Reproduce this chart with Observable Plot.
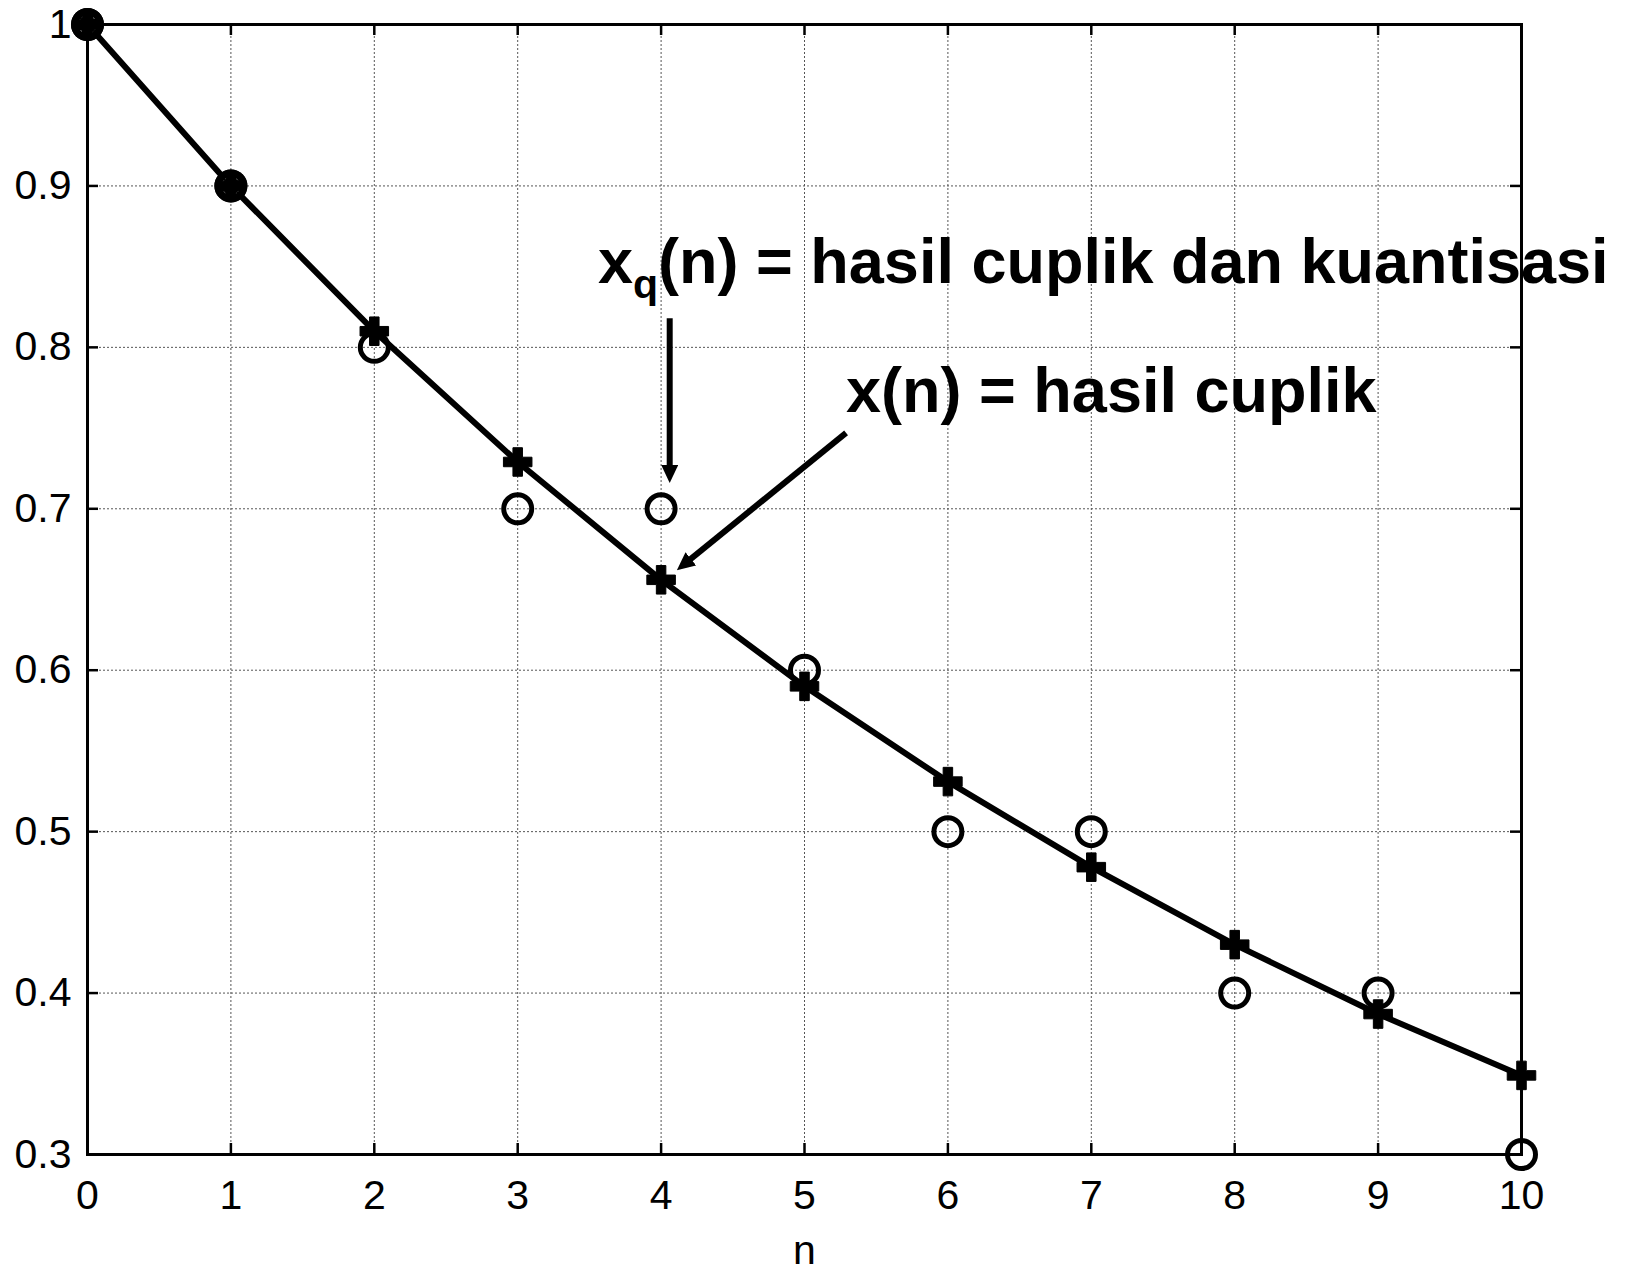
<!DOCTYPE html>
<html>
<head>
<meta charset="utf-8">
<script src="https://cdn.jsdelivr.net/npm/d3@7"></script>
<script src="https://cdn.jsdelivr.net/npm/@observablehq/plot@0.6"></script>
<style>
  html, body { margin: 0; padding: 0; background: #fff; }
  #chart svg { display: block; }
</style>
</head>
<body>
<div id="chart"></div>
<script>
// Sample index
const n = [0, 1, 2, 3, 4, 5, 6, 7, 8, 9, 10];
// x(n): sampled signal
const xSampled = [1.000, 0.900, 0.810, 0.729, 0.656, 0.590, 0.531, 0.478, 0.430, 0.387, 0.349];
// xq(n): sampled and quantized (step 0.1)
const xQuantized = [1.0, 0.9, 0.8, 0.7, 0.7, 0.6, 0.5, 0.5, 0.4, 0.4, 0.3];

// Axis ticks and their labels
const xTicks = [0, 1, 2, 3, 4, 5, 6, 7, 8, 9, 10];
const xTickLabels = ["0", "1", "2", "3", "4", "5", "6", "7", "8", "9", "10"];
const yTicks = [0.3, 0.4, 0.5, 0.6, 0.7, 0.8, 0.9, 1.0];
const yTickLabels = ["0.3", "0.4", "0.5", "0.6", "0.7", "0.8", "0.9", "1"];
const xLabel = "n";

// Callout texts (anchored at their baseline, in data units)
const noteText = ["xq(n) = hasil cuplik dan kuantisasi", "x(n) = hasil cuplik"];
const noteN = [3.56, 5.29];
const noteValue = [0.84, 0.76];

// Callout arrows: tail -> tip, in data units
const arrowN1 = [4.06, 5.29];
const arrowV1 = [0.818, 0.747];
const arrowN2 = [4.06, 4.11];
const arrowV2 = [0.716, 0.662];

const samples = n.map((k, i) => ({n: k, x: xSampled[i], xq: xQuantized[i]}));
const notes = noteText.map((t, i) => ({text: t, n: noteN[i], v: noteValue[i]}));
const arrows = arrowN1.map((_, i) => ({n1: arrowN1[i], v1: arrowV1[i], n2: arrowN2[i], v2: arrowV2[i]}));

const W = 1644, H = 1271;
const mL = 87, mR = 123, mT = 24, mB = 117;
const plotW = W - mL - mR, plotH = H - mT - mB;
const tickLen = 11;
const font = "'Liberation Sans', Arial, Helvetica, sans-serif";
const xLabelOf = d => xTickLabels[xTicks.indexOf(d)];
const yLabelOf = d => yTickLabels[yTicks.indexOf(d)];

const chart = Plot.plot({
  width: W,
  height: H,
  marginLeft: mL,
  marginRight: mR,
  marginTop: mT,
  marginBottom: mB,
  style: {fontFamily: font, background: "#fff", color: "#000", overflow: "visible"},
  x: {domain: [0, 10]},
  y: {domain: [0.3, 1]},
  marks: [
    // dotted grid
    Plot.ruleX(xTicks, {x: d => d, stroke: "#555", strokeWidth: 1, strokeDasharray: "2,2"}),
    Plot.ruleY(yTicks, {y: d => d, stroke: "#555", strokeWidth: 1, strokeDasharray: "2,2"}),
    // box
    Plot.frame({stroke: "#000", strokeWidth: 3}),
    // inward ticks on all four sides
    Plot.tickX(xTicks, {x: d => d, insetTop: plotH - tickLen, stroke: "#000", strokeWidth: 2.5}),
    Plot.tickX(xTicks, {x: d => d, insetBottom: plotH - tickLen, stroke: "#000", strokeWidth: 2.5}),
    Plot.tickY(yTicks, {y: d => d, insetRight: plotW - tickLen, stroke: "#000", strokeWidth: 2.5}),
    Plot.tickY(yTicks, {y: d => d, insetLeft: plotW - tickLen, stroke: "#000", strokeWidth: 2.5}),
    // tick labels
    Plot.axisX(xTicks, {tickSize: 0, tickPadding: 25, fontSize: 41, tickFormat: xLabelOf, label: null, fill: "#000"}),
    Plot.axisY(yTicks, {tickSize: 0, tickPadding: 16, fontSize: 41, tickFormat: yLabelOf, label: null, fill: "#000"}),
    Plot.text([xLabel], {frameAnchor: "bottom", dy: 80, lineAnchor: "top", fontSize: 41, fill: "#000", text: d => d}),
    // x(n) line
    Plot.line(samples, {x: "n", y: "x", stroke: "#000", strokeWidth: 6, strokeLinejoin: "round"}),
    // where both values coincide the markers merge into a solid disc
    Plot.dot(samples.filter(d => d.x === d.xq), {x: "n", y: "xq", r: 16.5, fill: "#000", stroke: "none"}),
    Plot.dot(samples.filter(d => d.x === d.xq), {x: "n", y: "xq", r: 9, fill: "none", stroke: "#888", strokeWidth: 1, strokeDasharray: "2,2"}),
    // xq(n) circles
    Plot.dot(samples, {x: "n", y: "xq", r: 14, fill: "none", stroke: "#000", strokeWidth: 5}),
    // x(n) plus markers
    Plot.dot(samples, {x: "n", y: "x", symbol: "cross", r: 12, fill: "#000", stroke: "#000", strokeWidth: 1}),
    // callouts
    Plot.link(arrows, {x1: "n1", y1: "v1", x2: "n2", y2: "v2", stroke: "#000", strokeWidth: 6, className: "callout-arrow"}),
    Plot.text(notes, {x: "n", y: "v", text: "text", textAnchor: "start", lineAnchor: "bottom", fontSize: 63, fontWeight: "bold", fill: "#000", className: "callout-text"})
  ]
});

document.getElementById("chart").appendChild(chart);

// filled arrowheads for the callouts
const svg = d3.select(chart);
svg.append("defs").append("marker")
  .attr("id", "callout-head")
  .attr("viewBox", "0 0 18 17")
  .attr("refX", 18)
  .attr("refY", 8.5)
  .attr("markerWidth", 18)
  .attr("markerHeight", 17)
  .attr("markerUnits", "userSpaceOnUse")
  .attr("orient", "auto")
  .append("path")
  .attr("d", "M0,0L18,8.5L0,17Z")
  .attr("fill", "#000");
svg.selectAll(".callout-arrow path").each(function () {
  const len = this.getTotalLength();
  d3.select(this)
    .attr("stroke-dasharray", `${len - 12} ${len}`)
    .attr("marker-end", "url(#callout-head)");
});

// subscript q in the first callout
svg.selectAll(".callout-text text").each(function () {
  const t = this.textContent;
  if (t.startsWith("xq")) {
    const el = d3.select(this);
    el.text("");
    el.append("tspan").text("x");
    el.append("tspan").attr("dy", 15).attr("font-size", 41).text("q");
    el.append("tspan").attr("dy", -15).text(t.slice(2));
  }
});
</script>
</body>
</html>
